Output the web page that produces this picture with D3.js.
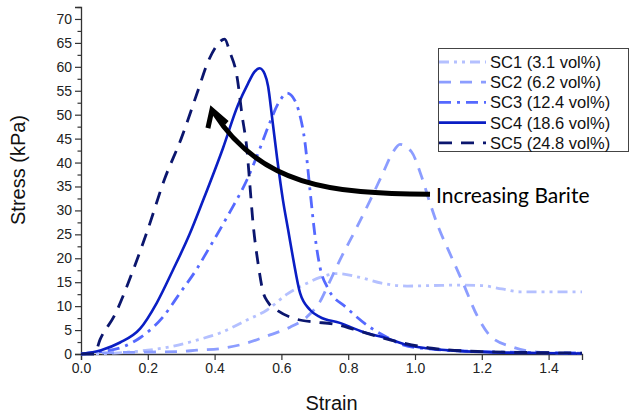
<!DOCTYPE html>
<html>
<head>
<meta charset="utf-8">
<script src="https://cdn.jsdelivr.net/npm/d3@7"></script>
<style>
  body { margin: 0; background: #fff; }
  svg { display: block; font-family: "Liberation Sans", Arial, sans-serif; }
</style>
</head>
<body>
<div id="chart"></div>
<script>
// strain / stress (kPa)
var sc1 = [[0,0],[0.1,0.2],[0.2,0.8],[0.266,1.5],[0.347,2.9],[0.416,4.4],[0.497,7.1],[0.557,9.2],[0.617,12.5],[0.677,14.8],[0.716,16],[0.766,16.8],[0.835,16],[0.9,14.8],[0.976,14.2],[1.05,14.3],[1.135,14.4],[1.2,14.3],[1.26,13.6],[1.314,13],[1.4,13],[1.5,13]];
var sc2 = [[0,0],[0.057,0.2],[0.2,0.4],[0.296,0.5],[0.347,0.8],[0.425,1.2],[0.497,2.3],[0.566,4],[0.626,5.6],[0.677,7.8],[0.716,11],[0.737,14],[0.775,19.6],[0.826,26.5],[0.865,32],[0.904,37.8],[0.934,42.2],[0.955,43.8],[0.99,42.2],[1.02,37],[1.045,31.5],[1.07,26.5],[1.1,21.7],[1.144,14.8],[1.186,8],[1.225,3.8],[1.29,1.5],[1.353,0.5],[1.45,0.2],[1.5,0.2]];
var sc3 = [[0,0],[0.06,0.5],[0.126,1.5],[0.177,3.4],[0.245,7.7],[0.296,12.7],[0.347,17.8],[0.38,21.7],[0.446,29.7],[0.497,36.4],[0.536,43],[0.56,47.4],[0.596,53],[0.617,54.5],[0.64,53],[0.655,50],[0.67,44.5],[0.686,34],[0.7,25],[0.716,18],[0.737,14],[0.796,9.6],[0.865,5.6],[0.916,3.5],[0.964,1.9],[1.05,1],[1.2,0.5],[1.35,0.3],[1.5,0.2]];
var sc4 = [[0,0],[0.06,0.8],[0.117,2.4],[0.177,5.3],[0.227,10.7],[0.275,17.5],[0.325,25],[0.365,32],[0.425,43],[0.47,52],[0.5,56.5],[0.52,59],[0.535,59.7],[0.55,58.5],[0.56,56],[0.572,49.5],[0.587,41],[0.605,32],[0.62,26],[0.635,20],[0.656,12.7],[0.686,9.2],[0.716,7.7],[0.775,6.5],[0.845,4.6],[0.916,3.3],[0.976,1.9],[1.036,1.2],[1.114,0.7],[1.216,0.4],[1.374,0.2],[1.5,0.1]];
var sc5 = [[0,0],[0.04,0],[0.057,3],[0.1,8],[0.156,17.5],[0.2,26],[0.25,36.5],[0.3,45],[0.35,55],[0.38,61],[0.407,64.5],[0.43,65.8],[0.446,63],[0.467,58],[0.482,50],[0.497,42.6],[0.506,35],[0.515,27.4],[0.53,19],[0.545,13],[0.56,10.8],[0.59,9],[0.635,7.5],[0.695,6.7],[0.754,6.3],[0.815,5.2],[0.895,3.5],[0.964,2.3],[1.05,1.2],[1.2,0.5],[1.35,0.3],[1.5,0.2]];

var seriesNames = ["SC1 (3.1 vol%)", "SC2 (6.2 vol%)", "SC3 (12.4 vol%)", "SC4 (18.6 vol%)", "SC5 (24.8 vol%)"];
var seriesData = [sc1, sc2, sc3, sc4, sc5];
var seriesColors = ["#b4c0ff", "#8c9dff", "#5569ff", "#0a1ec4", "#0b166e"];
var seriesDash = ["10,5,3,5,3,5", "12,9", "12,6,3,6", null, "13,9"];

var xTicks = [0, 0.2, 0.4, 0.6, 0.8, 1.0, 1.2, 1.4];
var yTicks = [0, 5, 10, 15, 20, 25, 30, 35, 40, 45, 50, 55, 60, 65, 70];

// annotation arrow (data units): start, two control points, end; then head
var arrowCurve = [[1.045, 33.4], [0.746, 33.4], [0.536, 35.3], [0.398, 50.4]];
var arrowHead = [[0.380, 47.2], [0.392, 51.0], [0.437, 48.3]];
var arrowLabel = {text: "Increasing Barite", x: 1.063, y: 31.6};

var width = 631, height = 413;
var margin = {top: 7, right: 49, bottom: 59, left: 81};

var x = d3.scaleLinear().domain([0, 1.5]).range([margin.left, width - margin.right]);
var y = d3.scaleLinear().domain([0, 72.5]).range([height - margin.bottom, margin.top]);

var svg = d3.select("#chart").append("svg")
    .attr("width", width)
    .attr("height", height);

// axes
var xAxis = svg.append("g")
    .attr("transform", "translate(0," + y(0) + ")")
    .call(d3.axisBottom(x).tickValues(xTicks).tickFormat(d3.format(".1f")).tickSizeOuter(0).tickSize(6).tickPadding(3));

var yMinor = svg.append("g")
    .attr("transform", "translate(" + x(0) + ",0)")
    .call(d3.axisLeft(y).tickValues(d3.range(2.5, 73, 5)).tickFormat("").tickSizeOuter(0).tickSize(3.5));
yMinor.select(".domain").remove();

var yAxis = svg.append("g")
    .attr("transform", "translate(" + x(0) + ",0)")
    .call(d3.axisLeft(y).tickValues(yTicks).tickSizeOuter(0).tickSize(6).tickPadding(3));

svg.selectAll(".domain").attr("stroke", "#333").attr("stroke-width", 1.3);
svg.selectAll(".tick line").attr("stroke", "#333").attr("stroke-width", 1.2);
svg.selectAll(".tick text").attr("fill", "#222").style("font-size", "14px")
    .style("font-family", "'Liberation Sans', Arial, sans-serif");

svg.append("text")
    .attr("x", (x(0) + x(1.5)) / 2)
    .attr("y", 410)
    .attr("text-anchor", "middle")
    .attr("fill", "#111")
    .style("font-size", "20px")
    .text("Strain");

svg.append("text")
    .attr("transform", "translate(25,170) rotate(-90)")
    .attr("text-anchor", "middle")
    .attr("fill", "#111")
    .style("font-size", "20px")
    .text("Stress (kPa)");

// series
var line = d3.line()
    .x(function(d) { return x(d[0]); })
    .y(function(d) { return y(d[1]); })
    .curve(d3.curveMonotoneX);

seriesData.forEach(function(data, i) {
  svg.append("path")
      .datum(data)
      .attr("fill", "none")
      .attr("stroke", seriesColors[i])
      .attr("stroke-width", i == 3 ? 2.6 : 2.8)
      .attr("stroke-dasharray", seriesDash[i])
      .attr("d", line);
});

// arrow annotation
var ac = arrowCurve.map(function(p) { return [x(p[0]), y(p[1])]; });
var arrowPath = d3.path();
arrowPath.moveTo(ac[0][0], ac[0][1]);
arrowPath.bezierCurveTo(ac[1][0], ac[1][1], ac[2][0], ac[2][1], ac[3][0], ac[3][1]);
svg.append("path")
    .attr("d", arrowPath.toString())
    .attr("fill", "none")
    .attr("stroke", "#000")
    .attr("stroke-width", 5);

svg.append("path")
    .attr("d", d3.line().x(function(d) { return x(d[0]); }).y(function(d) { return y(d[1]); })(arrowHead))
    .attr("fill", "none")
    .attr("stroke", "#000")
    .attr("stroke-width", 5)
    .attr("stroke-linejoin", "miter");

svg.append("text")
    .attr("x", x(arrowLabel.x))
    .attr("y", y(arrowLabel.y))
    .attr("fill", "#000")
    .style("font-family", "Lato, 'Open Sans', sans-serif")
    .style("font-size", "21px")
    .text(arrowLabel.text);

// legend
var legend = svg.append("g");
legend.append("rect")
    .attr("x", 438.5)
    .attr("y", 48.5)
    .attr("width", 190)
    .attr("height", 103)
    .attr("fill", "#fff")
    .attr("stroke", "#444")
    .attr("stroke-width", 1);

seriesNames.forEach(function(name, i) {
  var ly = 62 + i * 20.2;
  legend.append("line")
      .attr("x1", 439).attr("x2", 486)
      .attr("y1", ly).attr("y2", ly)
      .attr("stroke", seriesColors[i])
      .attr("stroke-width", 2.8)
      .attr("stroke-dasharray", seriesDash[i]);
  legend.append("text")
      .attr("x", 490)
      .attr("y", ly)
      .attr("dy", "0.36em")
      .attr("fill", "#111")
      .style("font-size", "16.5px")
      .text(name);
});
</script>
</body>
</html>
